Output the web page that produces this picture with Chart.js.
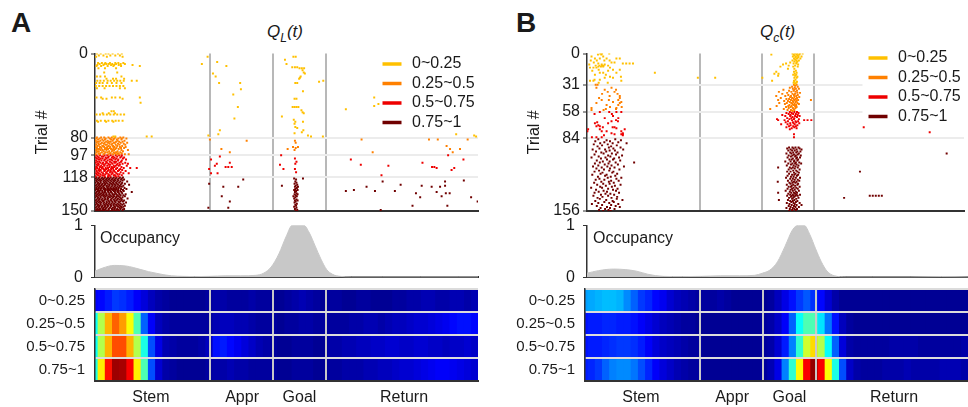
<!DOCTYPE html>
<html>
<head>
<meta charset="utf-8">
<title>Q value rasters, occupancy and heat maps</title>
<script src="https://cdn.jsdelivr.net/npm/chart.js@4.4.1/dist/chart.umd.min.js"></script>
<style>
  body { margin: 0; background: #fff; font-family: "Liberation Sans", Arial, sans-serif; color: #1a1a1a; }
  #fig { position: relative; width: 968px; height: 407px; overflow: hidden; }
  #fig canvas { position: absolute; }
  .panel { position: absolute; font-weight: bold; font-size: 28px; line-height: 28px; }
  .ttl { position: absolute; font-style: italic; font-size: 17px; line-height: 20px; }
  .ttl sub { font-size: 12px; vertical-align: -5px; }
  .occ { position: absolute; font-size: 16px; line-height: 18px; }
</style>
</head>
<body>
<div id="fig">
  <div class="panel" style="left:11px; top:9px;">A</div>
  <div class="panel" style="left:516px; top:9px;">B</div>
  <div class="ttl" style="left:267px; top:22px;">Q<sub>L</sub>(t)</div>
  <div class="ttl" style="left:760px; top:22px;">Q<sub>c</sub>(t)</div>

  <canvas id="rasterA" width="490" height="190" style="left:0; top:38px;"></canvas>
  <canvas id="occA" width="490" height="90" style="left:0; top:205px;"></canvas>
  <canvas id="heatA" width="490" height="137" style="left:0; top:270px;"></canvas>

  <canvas id="rasterB" width="478" height="190" style="left:490px; top:38px;"></canvas>
  <canvas id="occB" width="478" height="90" style="left:490px; top:205px;"></canvas>
  <canvas id="heatB" width="478" height="137" style="left:490px; top:270px;"></canvas>

  <div class="occ" style="left:100px; top:229px;">Occupancy</div>
  <div class="occ" style="left:593px; top:229px;">Occupancy</div>
</div>
<script>
// ---- shared axis info (track position 0..100) ----
var binLabels = ['0~0.25', '0.25~0.5', '0.5~0.75', '0.75~1'];
var binColors = ['#ffc000', '#ff8000', '#ee0000', '#700000'];
var regionBounds = [29.9, 46.4, 60.2];
var regionNames = ['Stem', 'Appr', 'Goal', 'Return'];
var regionPos = [14.6, 38.4, 53.4, 80.7];

// ---- raster rows: [trial, position, position, ...] ----
var rasterA_q1 = [
  [0, 0.5,1.5,2.8,3.5,4.6,6.0,7.0], [2, 1.0,2.2,4.0,5.3,6.5], [3, 0.3,3.1,7.2],
  [9, 0.8,1.8,2.7,3.9,5.3,6.1,7.4], [10, 1.2,2.5,3.0,3.6,4.5,5.5,6.7,7.8], [11, 0.6,2.2,4.2,5.0,6.2,9.8],
  [12, 0.4,1.6,3.3,4.8,6.8,11.7], [14, 0.9,2.6,5.5], [18, 2.4,5.8], [22, 0.5,1.4,2.6,6.9],
  [24, 3.0,4.7,5.5,7.6], [26, 0.6,1.4,2.3,3.3,4.1,5.0,5.8,6.6,7.5,9.6,10.9], [28, 0.3,1.2,2.0,3.2,4.4,5.6,6.9],
  [31, 0.2,1.1,2.0,2.9,3.8,4.7,5.6,6.5,7.4], [33, 0.5,2.5,6.5,7.8], [42, 0.4,1.6,4.4,5.3,6.5,11.7],
  [43, 2.0,3.0,7.2], [47, 11.9], [55, 4.3,4.9], [57, 2.0,3.6,5.2], [58, 0.4,1.3,2.2,3.1,4.0,4.9,5.8,6.7,7.6],
  [64, 0.5,1.5,2.6,3.5,4.5,5.4,6.2,7.2], [65, 0.8,2.9,4.8], [79, 4.8,5.3,13.5,14.8],
  [3, 29.4,51.8,52.4], [6, 49.6], [8, 31.9], [10, 27.9,50.0], [12, 34.3], [13, 51.5,52.2,52.8],
  [14, 53.4,54.0,54.6], [16, 54.2], [18, 54.5], [19, 30.8,54.8], [22, 31.5,53.7], [23, 53.5], [24, 53.3],
  [26, 59.6], [27, 58.5], [28, 32.4,37.9,52.3,52.8], [34, 38.1], [36, 54.3], [39, 36.1], [42, 72.9],
  [43, 52.1,52.6], [48, 74.0], [50, 72.9], [51, 51.6,52.1,52.6,53.1,37.3], [53, 65.5], [54, 53.9],
  [56, 54.2], [57, 54.5], [60, 48.8], [62, 36.4], [63, 51.9], [65, 52.3,54.3], [67, 52.1], [70, 52.3],
  [71, 52.8], [73, 32.6,54.4], [75, 54.0], [76, 52.1], [77, 32.2,94.3], [78, 29.6,55.6,99.0], [79, 56.4,59.5,99.5]
];
var rasterA_q2 = [
  [80, 0.5,1.6,2.4,3.5,4.4,5.3,6.6,7.4], [81, 0.3,1.2,2.8,3.9,5.0,6.1,7.0,8.2],
  [82, 0.8,1.9,2.6,4.2,4.8,5.7,6.9,30.0,69.6,87.2,89.5,97.3], [83, 0.2,1.4,2.2,3.3,4.6,5.9,7.7,39.6,52.2],
  [84, 0.6,1.0,2.9,3.7,4.1,5.5,6.3,7.2], [85, 0.4,1.8,2.5,3.4,4.9,5.2,6.7,8.4,52.4],
  [86, 0.9,1.5,2.3,3.8,4.5,6.0,7.5], [87, 0.3,1.1,2.7,3.1,4.3,5.4,6.4,7.9],
  [88, 0.7,1.9,2.1,3.6,4.7,5.8,7.1,91.8], [89, 0.2,1.3,2.4,3.2,4.0,5.1,6.5,8.0,51.7,53.0],
  [90, 0.5,1.7,2.9,3.9,4.8,5.6,6.8,7.6,52.4], [91, 0.8,1.2,2.6,3.4,4.2,5.3,6.2,33.0,50.3,92.7,95.3],
  [92, 0.3,1.5,2.0,3.0,4.6,5.0,6.9,8.6,52.1], [93, 0.6,1.0,2.3,3.7,4.4,5.9,7.3],
  [94, 0.4,1.8,2.8,3.3,4.9,5.5,6.6,35.2,72.5,93.4], [95, 0.9,1.4,2.5,3.9,4.1,5.2,6.0,7.0],
  [96, 0.2,1.1,2.2,3.5,4.7,5.7,6.4,7.8,8.8]
];
var rasterA_q3 = [
  [97, 0.4,1.3,2.5,3.2,4.1,5.4,6.3,7.0,48.6,92.2], [98, 0.7,1.8,2.2,3.6,4.7,5.8,6.9,32.6],
  [99, 0.2,1.0,2.8,3.4,4.4,5.1,6.6,7.6], [100, 0.5,1.5,2.0,3.0,4.8,5.6,7.3,52.2],
  [101, 0.9,1.2,2.6,3.8,4.2,5.3,6.1,8.1,30.3,66.8,96.2], [102, 0.3,1.7,2.4,3.3,4.5,6.0,7.0],
  [103, 0.6,1.1,2.9,3.9,5.0,5.5,6.8,52.6], [104, 0.2,1.4,2.1,3.1,4.3,5.2,6.4,7.9,35.2,85.5],
  [105, 0.8,1.9,2.7,3.5,4.6,5.9,7.2,8.6,31.8,52.3], [106, 0.4,1.0,2.3,3.7,4.0,5.7,6.5,48.3,69.4],
  [107, 0.7,1.6,2.5,3.2,4.9,5.4,6.2,8.3,31.3,76.6], [108, 0.3,1.3,2.0,3.8,4.4,5.1,6.9,34.1,34.8,35.7,88.0,88.6],
  [109, 0.6,1.8,2.8,3.4,4.7,5.8,7.5,9.2,10.9,89.2,93.8], [110, 0.2,1.1,2.2,3.0,4.2,5.5,6.6,29.8,49.2,52.2],
  [111, 0.9,1.5,2.6,3.6,4.8,6.3,7.1,93.1], [112, 0.4,1.2,2.4,3.3,4.1,5.0,6.0,8.0],
  [113, 0.7,1.7,2.9,3.9,4.5,5.3,6.7,52.5], [114, 0.3,1.0,2.1,3.1,4.6,5.6,7.4,8.8,30.3,32.0],
  [115, 0.5,1.4,2.7,3.5,4.3,5.9,6.4], [116, 0.8,1.9,2.3,3.7,4.9,5.2,7.0,74.8],
  [117, 0.2,1.3,2.5,3.4,4.0,5.4,6.1]
];
var rasterA_q4 = [
  [118, 0.4,1.1,1.9,2.6,3.4,4.1,4.9,5.6,6.5,7.3], [119, 0.2,0.9,1.7,2.3,3.1,3.8,4.6,5.4,6.2,7.0,52.0,54.3],
  [120, 0.6,1.3,2.1,2.9,3.6,4.4,5.1,5.9,6.8,7.6,38.7,52.5], [121, 0.3,1.0,1.6,2.5,3.2,4.0,4.8,5.3,6.1,7.2,96.3],
  [122, 0.5,1.4,2.2,2.8,3.5,4.3,5.0,5.8,6.6,8.4,75.1,91.4,52.3], [123, 0.1,0.8,1.5,2.4,3.0,3.9,4.7,5.5,6.3,7.1,52.6],
  [124, 0.7,1.2,2.0,2.7,3.3,4.2,4.9,5.7,6.9,7.8,29.8,52.1], [125, 0.4,1.1,1.8,2.6,3.7,4.5,5.2,6.0,6.7,8.9,79.8,52.8],
  [126, 0.2,0.9,1.6,2.3,3.1,3.8,4.6,5.4,6.4,7.4,48.8,85.3,91.4,52.4],
  [127, 0.6,1.3,2.1,3.0,3.5,4.3,5.1,5.9,6.5,7.0,33.5,37.4,70.9,87.9,90.1,52.2,53.0],
  [128, 0.3,1.0,1.7,2.4,3.3,4.0,4.8,5.5,6.2,7.7,52.7], [129, 0.5,1.4,2.2,2.8,3.6,4.4,5.0,5.7,6.8,8.2,52.3],
  [130, 0.1,0.8,1.5,2.5,3.2,3.9,4.7,5.3,6.1,7.3,67.6,52.0,52.9],
  [131, 0.7,1.2,1.9,2.7,3.4,4.1,4.9,5.8,6.6,7.5,65.5,73.1,78.3,52.5],
  [132, 0.4,1.1,2.0,2.6,3.5,4.2,5.2,6.0,6.9,9.6,89.2,52.2],
  [133, 0.2,0.9,1.6,2.3,3.0,3.8,4.5,5.4,6.3,7.1,83.8,91.6,92.6,52.6],
  [134, 0.6,1.3,2.1,2.9,3.7,4.6,5.1,5.6,6.4,8.0,52.1,52.9], [135, 0.3,1.0,1.8,2.4,3.1,4.0,4.8,5.9,6.7,7.4,52.4],
  [136, 0.5,1.4,2.2,2.8,3.6,4.3,5.0,5.7,6.2,7.8,33.1,90.5,51.8,52.7],
  [137, 0.1,0.8,1.5,2.5,3.3,3.9,4.7,5.5,6.5,7.2,84.9,98.2,52.3], [138, 0.7,1.2,2.0,2.7,3.4,4.4,5.3,6.0,6.8,8.5,52.0],
  [139, 0.4,1.1,1.7,2.6,3.2,4.1,4.9,5.8,6.4,7.0,52.6], [140, 0.2,0.9,1.9,2.3,3.5,4.2,5.1,5.6,6.9,7.6,52.2,52.9],
  [141, 0.6,1.3,2.1,3.0,3.7,4.5,5.2,6.1,6.6,7.3,35.2,99.9,52.4], [142, 0.3,1.0,1.6,2.4,3.1,3.8,4.6,5.4,6.3,8.1,52.1],
  [143, 0.5,1.4,2.2,2.9,3.6,4.3,5.0,5.9,6.7,7.5,52.7], [144, 0.1,0.8,1.5,2.5,3.2,4.0,4.8,5.5,6.2,7.1,52.3],
  [145, 0.7,1.2,2.0,2.7,3.4,4.2,4.9,5.7,6.5,7.8,82.9,92.0,52.5], [146, 0.4,1.1,1.8,2.6,3.3,4.1,5.2,6.0,6.8,7.4,52.0],
  [147, 0.2,0.9,1.7,2.3,3.0,3.9,4.7,5.3,6.4,7.0,29.6,34.8,52.6], [148, 0.6,1.3,2.1,2.8,3.6,4.4,5.1,5.8,6.6,7.6,52.2],
  [149, 0.3,1.0,1.9,2.5,3.5,4.5,5.0,5.6,6.1,7.2,74.6,52.8], [150, 0.5,1.4,2.2,3.1,4.2,5.4,6.3,52.4]
];

var rasterB_q1 = [
  [0, 3.5,4.0,5.9], [1, 2.9,3.8], [3, 1.2,4.3], [5, 2.1,3.4,5.2,7.8,8.7], [7, 1.0,2.6,4.6,6.0],
  [9, 6.5,7.3,1.8], [10, 10.4,11.3,12.2,9.5,3.0], [11, 3.9,4.7,0.6], [12, 2.3,3.3,4.0,4.4,5.6],
  [13, 4.3,3.0,3.7], [14, 2.5,1.7,0.8,6.1], [16, 8.7,6.9,3.1], [17, 5.6,1.4], [19, 4.3,3.4,7.8,18.0],
  [21, 2.1,5.0], [23, 6.1,9.0], [24, 6.9,4.7,29.4,34.0,46.5], [26, 3.4,2.0], [27, 0.8,1.7,9.1], [29, 3.1,5.5],
  [0, 54.5,55.2,55.8,56.5,57.2], [1, 48.9,54.8,55.6,56.3], [2, 55.0,55.9], [3, 54.6,55.4,56.1,56.9],
  [4, 55.3,56.0], [5, 54.9,55.7,56.6], [6, 55.2], [7, 54.5,55.5,56.2], [8, 55.0,55.8], [9, 53.9,55.6],
  [10, 52.8,54.8,55.5], [11, 52.0,56.0], [12, 53.5,55.2], [13, 51.3,54.7,55.9], [15, 53.3,55.0], [17, 55.4],
  [18, 50.2,54.9], [19, 55.6], [20, 49.7,50.8,55.1], [21, 54.7,55.5], [22, 50.7,55.2], [23, 55.8],
  [24, 55.0,55.6], [26, 55.3], [27, 49.1,54.9], [28, 55.7,55.0], [29, 54.8,55.5], [30, 55.2]
];
var rasterB_q2 = [
  [31, 2.3,2.8], [34, 2.5,6.5], [36, 7.7,4.7], [38, 7.3,5.5], [40, 8.1,4.0], [42, 6.0,8.7], [44, 8.7,3.2],
  [46, 3.9,5.8,8.3], [48, 6.9,9.1], [49, 2.5,8.7], [51, 5.2,8.3], [53, 6.1,9.2], [54, 7.8,1.2], [55, 7.7,5.0], [56, 1.2,4.4],
  [31, 54.9,55.6], [32, 55.2], [33, 54.4,55.9], [34, 53.8,55.1], [35, 54.6,55.4,56.2], [36, 52.1,55.0],
  [37, 53.6,54.8,55.7], [38, 50.9,54.2,55.3], [39, 53.1,55.8,56.5], [40, 51.8,54.5,55.2], [41, 53.4,54.9,55.9],
  [42, 50.2,52.6,54.1,55.5], [43, 53.9,55.0,56.3], [44, 51.4,54.4,55.7], [45, 52.9,53.6,54.8,55.4],
  [46, 50.7,54.1,55.1,56.0,59.4], [47, 52.3,53.3,54.6,55.6], [48, 53.8,54.7,55.3], [49, 51.0,53.0,54.2,55.8],
  [50, 52.5,54.5,55.1,56.2], [51, 53.7,54.9,55.5], [52, 50.3,53.4,54.3,55.2], [53, 52.8,54.0,55.6],
  [54, 53.5,54.6,55.3], [55, 48.6,52.2,54.8], [56, 53.2,54.1,55.0], [57, 54.5]
];
var rasterB_q3 = [
  [58, 3.4,5.9,7.8,9.1], [60, 2.0,6.6], [62, 6.9], [64, 4.7,8.3], [66, 7.7], [67, 6.5,8.2], [68, 2.7],
  [69, 2.1,5.6], [71, 3.0], [72, 3.4,2.5], [73, 4.2,6.8,7.3], [74, 7.8], [75, 0.3,3.4,10.0], [77, 3.9,5.2,9.1,0.1],
  [79, 6.5,9.5], [80, 7.3,9.1,9.5], [81, 9.5,4.5], [83, 1.3,2.5,3.9],
  [58, 53.8,55.0,55.7], [59, 52.9,54.3,56.1], [60, 53.5,54.7,55.4], [61, 51.8,54.0,55.9], [62, 52.6,53.9,55.2,56.4],
  [63, 54.5,55.7], [64, 53.1,54.2,55.0], [65, 50.4,53.7,54.9,56.2], [66, 50.7,52.4,54.4,57.6,58.5,59.5],
  [67, 53.3,55.3,56.0], [68, 52.7,54.6,55.5], [69, 53.9,54.8,56.3], [70, 51.5,53.2,55.1], [71, 54.0,55.8],
  [72, 53.6,54.7,55.4], [73, 52.9,55.0,73.4], [74, 54.3,55.6], [75, 53.8], [78, 90.9], [80, 54.9], [83, 54.9]
];
var rasterB_q4 = [
  [85, 3.0,7.5], [86, 5.2,9.0], [87, 2.2,6.1], [88, 4.6,8.3], [89, 3.5,6.8,10.5], [90, 1.8,5.5], [91, 4.0,7.9],
  [92, 2.8,6.4], [93, 5.8,8.9], [94, 3.3,7.0], [95, 1.5,4.8,9.6], [96, 6.0,7.4], [97, 2.4,5.1], [98, 3.8,8.1],
  [99, 4.4,6.6], [100, 2.0,7.7], [101, 5.6,9.3], [102, 3.1,6.2], [103, 1.2,4.9,8.5], [104, 3.7,7.2],
  [105, 5.3,6.9], [106, 2.6,8.8], [107, 4.2,6.0], [108, 3.4,7.6,12.5], [109, 2.1,5.7], [110, 4.7,8.2],
  [111, 3.0,6.5], [112, 1.6,5.4,9.8], [113, 3.9,7.3], [114, 2.5,6.1], [115, 4.5,8.6], [116, 3.2,5.9],
  [117, 2.0,7.0], [118, 4.1,6.7], [119, 3.6,8.0], [120, 1.4,5.2], [121, 4.8,7.5], [122, 2.9,6.3],
  [123, 5.5,9.1], [124, 3.3,7.8], [125, 2.3,4.6], [126, 6.4,8.4], [127, 3.8,5.8], [128, 1.9,7.1],
  [129, 4.3,6.0], [130, 2.7,8.9], [131, 5.0,7.4], [132, 3.5,6.6], [133, 1.1,4.0], [134, 5.6,8.1],
  [135, 2.4,6.9], [136, 4.4,7.7], [137, 3.1,5.3], [138, 2.0,8.5], [139, 4.9,6.2], [140, 3.7,7.2],
  [141, 1.7,5.6], [142, 4.1,8.0], [143, 2.8,6.5], [144, 3.4,7.9], [145, 5.1,9.4], [146, 2.2,6.8],
  [147, 4.6,7.1], [148, 3.0,5.9], [149, 1.3,8.3], [150, 4.0,6.4], [151, 2.6,7.6], [152, 5.3,8.7],
  [153, 3.6,6.1], [154, 4.8,7.3], [155, 3.2,5.7], [156, 4.3,6.3],
  [93, 53.6,54.5,55.3,56.1], [94, 53.1,54.8,56.4], [95, 54.0,55.6,56.9], [96, 53.4,54.4,55.1], [97, 55.8,56.6],
  [98, 53.9,54.7,55.5], [99, 52.9,54.2,56.2,95.4], [100, 54.9,55.9], [101, 53.5,54.5,55.4,56.7], [102, 54.1,55.2],
  [103, 53.2,55.7,56.5], [104, 54.6,55.5], [105, 53.7,54.3,56.0], [106, 55.0,55.8], [107, 52.6,54.0,54.9],
  [108, 55.4,56.3], [109, 53.4,54.5,55.2,56.8], [110, 54.1,55.6], [111, 53.0,54.8,56.1], [112, 55.3],
  [113, 50.7,53.8,54.6,55.9], [114, 54.2,55.1], [115, 53.5,56.4], [116, 54.7,55.5], [117, 53.1,54.0,55.8,72.4],
  [118, 54.9,56.2], [119, 53.6,55.3], [120, 54.4,55.0,56.0], [121, 53.2,55.7], [122, 54.1,54.8],
  [123, 52.8,55.4,56.5], [124, 53.9,54.6], [125, 55.1,55.9], [126, 53.3,54.3,56.3], [127, 50.6,54.9,55.6],
  [128, 53.7,54.5,55.3], [129, 54.0,56.0], [130, 53.0,54.7,55.8], [131, 54.3,55.2], [132, 53.5,54.1,56.4],
  [133, 54.8,55.5], [134, 53.2,54.4,55.9], [135, 54.0,55.1], [136, 52.7,54.6,56.2], [137, 53.8,55.4],
  [138, 50.7,54.2,54.9,55.7], [139, 53.4,55.2], [140, 53.9,54.6,55.6,56.5],
  [141, 53.1,54.3,54.8,55.3,55.9,75.0,75.8,76.6,77.4,78.2], [142, 54.1,55.0], [143, 53.6,54.7,56.1,68.2],
  [144, 54.4,55.5], [145, 50.9,53.3,55.0], [146, 53.9,54.6,55.8], [147, 54.2,55.4], [148, 53.0,54.8,56.4],
  [149, 53.7,55.1], [150, 54.3,55.6,56.9], [151, 53.5,54.9], [152, 54.0,55.3,56.2], [153, 52.9,54.6],
  [154, 53.8,55.0,55.7], [155, 54.4,55.4], [156, 53.6,54.5]
];

var trialTicksA = [0, 80, 97, 118, 150];
var trialTicksB = [0, 31, 58, 84, 156];

// ---- occupancy along the track ----
var occA_x = [0, 2, 5, 8, 10, 12, 14, 16, 18, 20, 23, 26, 30, 34, 38, 42, 44, 46, 48, 50, 51.5, 53, 54.5, 56, 57.5, 59, 60.5, 62, 64, 67, 75, 85, 95, 100];
var occA_y = [0.12, 0.18, 0.23, 0.22, 0.19, 0.15, 0.11, 0.08, 0.05, 0.03, 0.02, 0.015, 0.02, 0.03, 0.03, 0.04, 0.08, 0.2, 0.45, 0.8, 1, 1, 1, 0.85, 0.6, 0.35, 0.15, 0.06, 0.02, 0.01, 0.01, 0.01, 0.01, 0.01];
var occB_x = [0, 3, 7, 10, 13, 16, 20, 25, 30, 35, 40, 44, 46, 48, 50, 52, 54, 55.5, 57, 58.5, 60, 61.5, 63, 65, 68, 75, 85, 93, 100];
var occB_y = [0.08, 0.13, 0.16, 0.15, 0.12, 0.06, 0.02, 0.015, 0.02, 0.03, 0.03, 0.04, 0.08, 0.14, 0.3, 0.6, 0.92, 1, 1, 0.82, 0.55, 0.3, 0.12, 0.03, 0.01, 0.01, 0.01, 0.015, 0.01];

// ---- heat map rows (normalised rate per position bin) ----
var heatA_q1 = [0.12,0.13,0.15,0.18,0.17,0.15,0.12,0.09,0.06,0.04, 0.03,0.02,0.02,0.02,0.02,0.02,0.03, 0.04,0.04,0.03,0.03,0.03,0.04,0.03,0.03,0.02, 0.02,0.03,0.04,0.05,0.04,0.03,0.02, 0.03,0.03,0.02,0.02,0.03,0.03,0.02,0.02,0.02,0.03,0.03,0.04,0.04,0.05,0.05,0.04,0.04,0.05,0.05,0.04,0.05];
var heatA_q2 = [0.38,0.55,0.70,0.78,0.72,0.62,0.45,0.22,0.12,0.06, 0.04,0.03,0.03,0.03,0.03,0.03,0.03, 0.05,0.06,0.06,0.05,0.05,0.04,0.03,0.03,0.03, 0.02,0.03,0.03,0.04,0.04,0.03,0.03, 0.03,0.03,0.03,0.04,0.04,0.05,0.05,0.04,0.05,0.06,0.06,0.07,0.08,0.08,0.09,0.10,0.11,0.13,0.14,0.14,0.13];
var heatA_q3 = [0.38,0.55,0.70,0.80,0.80,0.70,0.55,0.40,0.20,0.10, 0.05,0.04,0.03,0.03,0.03,0.04,0.06, 0.14,0.15,0.13,0.11,0.09,0.07,0.05,0.04,0.03, 0.02,0.02,0.03,0.03,0.03,0.02,0.02, 0.04,0.04,0.05,0.05,0.06,0.06,0.07,0.07,0.08,0.08,0.07,0.07,0.08,0.08,0.07,0.07,0.06,0.07,0.07,0.08,0.07];
var heatA_q4 = [0.40,0.64,0.86,0.97,0.96,0.88,0.64,0.45,0.20,0.08, 0.04,0.03,0.02,0.02,0.02,0.02,0.03, 0.04,0.04,0.05,0.04,0.04,0.03,0.03,0.03,0.03, 0.02,0.02,0.03,0.03,0.03,0.02,0.02, 0.03,0.03,0.04,0.04,0.04,0.05,0.05,0.06,0.06,0.07,0.08,0.08,0.09,0.10,0.11,0.12,0.12,0.11,0.10,0.09,0.08];
var heatB_q1 = [0.28,0.29,0.30,0.31,0.31,0.30,0.26,0.22,0.18,0.16, 0.13,0.11,0.08,0.06,0.05,0.04,0.03, 0.03,0.03,0.04,0.03,0.02,0.02,0.02,0.02,0.02, 0.03,0.06,0.10,0.14,0.18,0.21,0.17, 0.13,0.08,0.04,0.02,0.02,0.02,0.02,0.02,0.02,0.02,0.02,0.02,0.02,0.02,0.02,0.02,0.02,0.02,0.02,0.02,0.02];
var heatB_q2 = [0.14,0.15,0.15,0.16,0.16,0.15,0.15,0.14,0.12,0.10, 0.08,0.06,0.05,0.04,0.03,0.03,0.02, 0.02,0.02,0.02,0.02,0.02,0.02,0.02,0.02,0.03, 0.04,0.07,0.12,0.22,0.38,0.45,0.45, 0.35,0.24,0.14,0.06,0.03,0.02,0.02,0.02,0.02,0.02,0.02,0.02,0.02,0.02,0.02,0.02,0.02,0.02,0.02,0.02,0.02];
var heatB_q3 = [0.14,0.15,0.15,0.16,0.17,0.18,0.18,0.17,0.15,0.12, 0.09,0.07,0.06,0.05,0.04,0.03,0.03, 0.02,0.02,0.02,0.02,0.02,0.02,0.02,0.02,0.03, 0.04,0.08,0.15,0.25,0.42,0.58,0.66, 0.55,0.38,0.22,0.09,0.04,0.03,0.03,0.03,0.03,0.03,0.04,0.04,0.04,0.04,0.03,0.03,0.03,0.03,0.03,0.03,0.04];
var heatB_q4 = [0.15,0.16,0.18,0.22,0.25,0.26,0.26,0.24,0.20,0.16, 0.12,0.09,0.07,0.05,0.04,0.03,0.03, 0.02,0.02,0.02,0.02,0.02,0.02,0.02,0.02,0.03, 0.05,0.10,0.25,0.42,0.63,0.88,0.98, 0.88,0.62,0.40,0.20,0.07,0.04,0.03,0.03,0.03,0.04,0.04,0.04,0.05,0.04,0.04,0.04,0.04,0.05,0.05,0.05,0.04];

// first bin is a sliver, the rest are equal width
var firstColW = 0.6;
var colW = (100 - firstColW) / 53;

Chart.defaults.font.family = '"Liberation Sans", Arial, sans-serif';
Chart.defaults.color = '#1a1a1a';

function jet(v) {
  var c = function (t) { return Math.round(255 * Math.min(1, Math.max(0, t))); };
  return 'rgb(' + c(1.5 - Math.abs(4 * v - 3)) + ',' + c(1.5 - Math.abs(4 * v - 2)) + ',' + c(1.5 - Math.abs(4 * v - 1)) + ')';
}

function toPoints(rows) {
  var pts = [];
  rows.forEach(function (r) {
    for (var i = 1; i < r.length; i++) pts.push({ x: r[i], y: r[0] });
  });
  return pts;
}

function fixedTicks(values) {
  return function (scale) { scale.ticks = values.map(function (v) { return { value: v }; }); };
}

function fixedHeight(h) {
  return function (scale) { scale.height = h; };
}

function fixedWidth(w) {
  return function (scale) { scale.width = w; };
}

// legend drawn in the upper right of the raster, on a white patch
var rasterLegend = {
  id: 'rasterLegend',
  beforeDatasetsDraw: function (chart, args, opts) {
    var a = chart.chartArea, ctx = chart.ctx;
    ctx.save();
    ctx.fillStyle = '#fff';
    ctx.fillRect(a.right - opts.inset - 6, a.top, opts.inset + 20, opts.boxH);
    ctx.restore();
  },
  afterDatasetsDraw: function (chart, args, opts) {
    var a = chart.chartArea, ctx = chart.ctx;
    var x0 = a.right - opts.inset;
    ctx.save();
    chart.data.datasets.forEach(function (ds, i) {
      var y = a.top + opts.top + i * 19.5;
      ctx.strokeStyle = ds.backgroundColor;
      ctx.lineWidth = 3.5;
      ctx.beginPath();
      ctx.moveTo(x0, y);
      ctx.lineTo(x0 + 19, y);
      ctx.stroke();
      ctx.fillStyle = '#1a1a1a';
      ctx.font = '16px "Liberation Sans", Arial, sans-serif';
      ctx.textBaseline = 'middle';
      ctx.fillText(ds.label, x0 + 29.5, y);
    });
    ctx.restore();
  }
};

function rasterChart(id, groups, yTicks, padLeft, padRight, legendTop, legendH) {
  var yMax = yTicks[yTicks.length - 1];
  return new Chart(document.getElementById(id), {
    type: 'scatter',
    data: {
      datasets: groups.map(function (g, i) {
        return {
          label: binLabels[i], data: toPoints(g),
          backgroundColor: binColors[i], borderWidth: 0,
          pointStyle: 'rect', pointRadius: 1.4
        };
      })
    },
    options: {
      responsive: false, animation: false,
      layout: { padding: { left: padLeft, right: padRight, top: 15.5, bottom: 17 } },
      plugins: {
        legend: { display: false }, tooltip: { enabled: false },
        rasterLegend: { inset: 95.5, top: legendTop, boxH: legendH }
      },
      scales: {
        x: {
          type: 'linear', min: 0, max: 100,
          afterBuildTicks: fixedTicks(regionBounds),
          afterFit: fixedHeight(0),
          ticks: { display: false },
          grid: { color: '#b8b8b8', lineWidth: 2, drawTicks: false },
          border: { color: '#333', width: 2 }
        },
        y: {
          type: 'linear', reverse: true, min: 0, max: yMax,
          afterBuildTicks: fixedTicks(yTicks),
          afterFit: fixedWidth(70),
          ticks: { font: { size: 16 }, color: '#1a1a1a', padding: 3 },
          grid: {
            color: function (c) { return (c.tick && (c.tick.value === 0 || c.tick.value === yMax)) ? 'rgba(0,0,0,0)' : '#ececec'; },
            lineWidth: 2, tickColor: '#333', tickLength: 4, tickWidth: 1
          },
          border: { color: '#333', width: 1.5 },
          title: { display: true, text: 'Trial #', font: { size: 16 }, padding: { top: 8, bottom: 0 } }
        }
      }
    },
    plugins: [rasterLegend]
  });
}

function occChart(id, xs, ys, padLeft, padRight) {
  return new Chart(document.getElementById(id), {
    type: 'line',
    data: {
      datasets: [{
        data: xs.map(function (x, i) { return { x: x, y: ys[i] }; }),
        fill: 'origin', backgroundColor: '#c8c8c8', borderColor: '#c8c8c8',
        borderWidth: 1, pointRadius: 0, cubicInterpolationMode: 'monotone'
      }]
    },
    options: {
      responsive: false, animation: false,
      layout: { padding: { left: padLeft, right: padRight, top: 20.3, bottom: 15 } },
      plugins: { legend: { display: false }, tooltip: { enabled: false } },
      scales: {
        x: {
          type: 'linear', min: 0, max: 100,
          afterFit: fixedHeight(0),
          ticks: { display: false },
          grid: { display: false, drawTicks: false },
          border: { color: '#333', width: 2 }
        },
        y: {
          min: 0, max: 1,
          afterBuildTicks: fixedTicks([0, 1]),
          afterFit: fixedWidth(70),
          ticks: { font: { size: 16 }, color: '#1a1a1a', padding: 8 },
          grid: { drawOnChartArea: false, tickLength: 4, tickColor: '#333' },
          border: { color: '#333', width: 1.5 }
        }
      }
    }
  });
}

function heatChart(id, rows, padLeft, padRight) {
  var datasets = [];
  for (var k = 0; k < rows[0].length; k++) {
    var s = k === 0 ? 0 : firstColW + (k - 1) * colW;
    var e = k === 0 ? firstColW : s + colW;
    // bins overlap a little to the left so no seams show between them
    var s0 = k === 0 ? s : s - 0.3;
    datasets.push({
      data: rows.map(function () { return [s0, e]; }),
      backgroundColor: rows.map(function (r) { return jet(r[k]); }),
      borderWidth: 0, grouped: false, barPercentage: 1, categoryPercentage: 1
    });
  }
  return new Chart(document.getElementById(id), {
    type: 'bar',
    data: { labels: binLabels, datasets: datasets },
    options: {
      indexAxis: 'y',
      responsive: false, animation: false,
      layout: { padding: { left: padLeft, right: padRight, top: 16, bottom: 0 } },
      plugins: { legend: { display: false }, tooltip: { enabled: false } },
      scales: {
        x: {
          type: 'linear', min: 0, max: 100,
          afterBuildTicks: fixedTicks(regionPos),
          afterFit: fixedHeight(26),
          ticks: {
            callback: function (v, i) { return regionNames[i]; },
            font: { size: 16 }, color: '#1a1a1a', padding: 7, autoSkip: false, maxRotation: 0
          },
          grid: { display: false, drawTicks: false },
          border: { color: '#333', width: 2, z: 2 }
        },
        xb: {
          type: 'linear', position: 'top', min: 0, max: 100,
          afterBuildTicks: fixedTicks(regionBounds),
          afterFit: fixedHeight(0),
          ticks: { display: false },
          grid: { color: '#c8c8c8', lineWidth: 2, drawTicks: false, z: 1 },
          border: { display: false }
        },
        y: {
          afterFit: fixedWidth(95 - padLeft),
          ticks: { font: { size: 15 }, color: '#1a1a1a', padding: 10, autoSkip: false },
          grid: { offset: true, color: '#dcdcdc', lineWidth: 2, drawTicks: false, z: 1 },
          border: { color: '#333', width: 1.5, z: 2 }
        }
      }
    }
  });
}

rasterChart('rasterA', [rasterA_q1, rasterA_q2, rasterA_q3, rasterA_q4], trialTicksA, 25, 12, 10.5, 80);
rasterChart('rasterB', [rasterB_q1, rasterB_q2, rasterB_q3, rasterB_q4], trialTicksB, 27, 0, 4.5, 75);
occChart('occA', occA_x, occA_y, 25, 12);
occChart('occB', occB_x, occB_y, 27, 0);
heatChart('heatA', [heatA_q1, heatA_q2, heatA_q3, heatA_q4], 5, 12);
heatChart('heatB', [heatB_q1, heatB_q2, heatB_q3, heatB_q4], 7, 0);
</script>
</body>
</html>
